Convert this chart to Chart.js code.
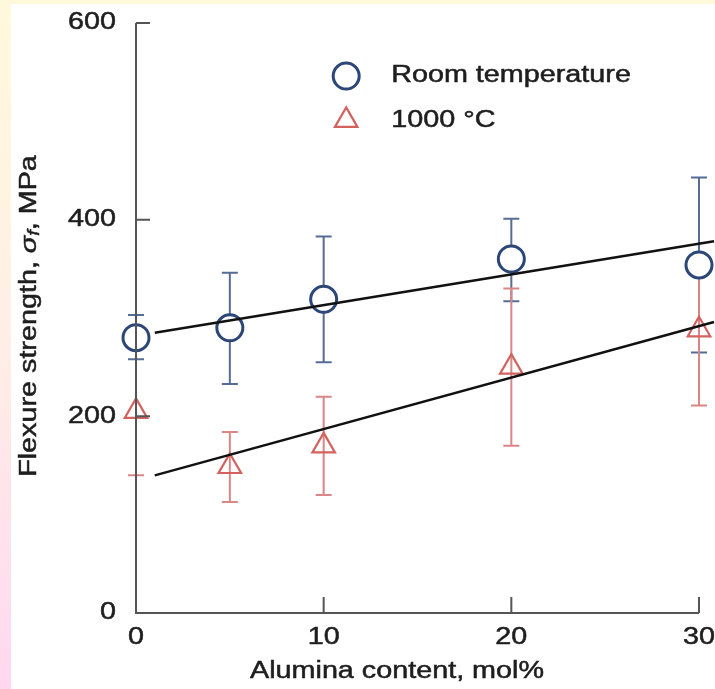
<!DOCTYPE html>
<html>
<head>
<meta charset="utf-8">
<script src="https://cdn.jsdelivr.net/npm/chart.js@4.4.0/dist/chart.umd.min.js"></script>
<style>
	html, body { margin: 0; padding: 0; }
	body {
		width: 715px; height: 689px; overflow: hidden; position: relative;
		background: linear-gradient(to bottom, #fff9dc 0%, #ffeee6 50%, #ffd8f0 100%);
	}
	#panel { position: absolute; left: 11px; top: 4px; width: 704px; height: 685px; background: #fff; }
	#myChart { display: block; }
</style>
</head>
<body>
<div id="panel"><canvas id="myChart" width="704" height="685"></canvas></div>
<script>
// alumina content (mol%) and flexure strength (MPa)
var alumina = [0, 5, 10, 20, 30];
var roomTemp = [280, 290, 319, 360, 354];
var roomLow = [258, 233, 255, 317, 265];
var roomHigh = [303, 346, 383, 401, 443];
var hotTemp = [205, 149, 170, 250, 288];
var hotLow = [140, 113, 120, 170, 211];
var hotHigh = [270, 184, 220, 330, 365];

// straight-line fits
var fitX = [1, 30.8];
var roomFit = [285, 378];
var hotFit = [140, 296];

var xTicks = [0, 10, 20, 30];
var yTicks = [0, 200, 400, 600];

var FAMILY = "'Liberation Sans', Arial, sans-serif";
var FONT = "23px " + FAMILY;
var WIDE = 1.25;
var INK = "#1e1e1e";

function pts(xs, ys) {
	var out = [];
	for (var i = 0; i < xs.length; i++) out.push({x: xs[i], y: ys[i]});
	return out;
}

// wide, slightly heavy lettering stretched along its baseline
function wideText(ctx, str, x, y, align, font) {
	ctx.save();
	ctx.translate(x, y);
	ctx.scale(WIDE, 1);
	ctx.font = font || FONT;
	ctx.fillStyle = INK;
	ctx.strokeStyle = INK;
	ctx.lineWidth = 0.5;
	ctx.textAlign = align;
	ctx.textBaseline = "middle";
	ctx.fillText(str, 0, 0);
	ctx.strokeText(str, 0, 0);
	ctx.restore();
}

var errorBars = {
	id: "errorBars",
	beforeDatasetsDraw: function(chart) {
		var ctx = chart.ctx, xs = chart.scales.x, ys = chart.scales.y;
		var sets = [
			{lo: roomLow, hi: roomHigh, color: "#566b95"},
			{lo: hotLow, hi: hotHigh, color: "#d98686"}
		];
		ctx.save();
		ctx.lineWidth = 2;
		sets.forEach(function(s) {
			ctx.strokeStyle = s.color;
			for (var i = 0; i < alumina.length; i++) {
				var px = xs.getPixelForValue(alumina[i]);
				var top = ys.getPixelForValue(s.hi[i]);
				var bot = ys.getPixelForValue(s.lo[i]);
				ctx.beginPath();
				ctx.moveTo(px, top); ctx.lineTo(px, bot);
				ctx.moveTo(px - 8, top); ctx.lineTo(px + 8, top);
				ctx.moveTo(px - 8, bot); ctx.lineTo(px + 8, bot);
				ctx.stroke();
			}
		});
		ctx.restore();
	}
};

var axesAndText = {
	id: "axesAndText",
	afterDraw: function(chart) {
		var ctx = chart.ctx, xs = chart.scales.x, ys = chart.scales.y;
		var area = chart.chartArea;
		var x0 = xs.getPixelForValue(0), y0 = ys.getPixelForValue(0);

		// axis lines and inward ticks
		ctx.save();
		ctx.strokeStyle = "#555";
		ctx.lineWidth = 2;
		ctx.beginPath();
		ctx.moveTo(x0, ys.getPixelForValue(600));
		ctx.lineTo(x0, y0);
		ctx.lineTo(xs.getPixelForValue(30), y0);
		yTicks.forEach(function(v) {
			if (v === 0) return;
			var py = ys.getPixelForValue(v);
			ctx.moveTo(x0, py); ctx.lineTo(x0 + 14, py);
		});
		xTicks.forEach(function(v) {
			if (v === 0) return;
			var px = xs.getPixelForValue(v);
			ctx.moveTo(px, y0); ctx.lineTo(px, y0 - 16);
		});
		ctx.stroke();
		ctx.restore();

		yTicks.forEach(function(v) {
			wideText(ctx, String(v), x0 - 20, ys.getPixelForValue(v), "right");
		});
		xTicks.forEach(function(v) {
			wideText(ctx, String(v), xs.getPixelForValue(v), y0 + 25, "center");
		});

		// axis titles
		wideText(ctx, "Alumina content, mol%", area.left + 261, y0 + 59, "center");

		var parts = [
			["Flexure strength, ", FONT, 0],
			["\u03c3", "italic 23px " + FAMILY, 0],
			["f", "italic 16px " + FAMILY, 5],
			[", MPa", FONT, 0]
		];
		ctx.save();
		ctx.translate(19, area.top + 293);
		ctx.rotate(-Math.PI / 2);
		ctx.scale(WIDE, 1);
		ctx.fillStyle = INK;
		ctx.strokeStyle = INK;
		ctx.lineWidth = 0.5;
		ctx.textBaseline = "middle";
		ctx.textAlign = "left";
		var total = 0;
		parts.forEach(function(p) { ctx.font = p[1]; total += ctx.measureText(p[0]).width; });
		var cx = -total / 2;
		parts.forEach(function(p) {
			ctx.font = p[1];
			ctx.fillText(p[0], cx, p[2]);
			ctx.strokeText(p[0], cx, p[2]);
			cx += ctx.measureText(p[0]).width;
		});
		ctx.restore();

		// legend
		var lx = xs.getPixelForValue(11.2);
		var rows = [
			{ds: chart.data.datasets[2], y: ys.getPixelForValue(546)},
			{ds: chart.data.datasets[3], y: ys.getPixelForValue(501)}
		];
		rows.forEach(function(r) {
			ctx.save();
			ctx.strokeStyle = r.ds.borderColor;
			ctx.fillStyle = r.ds.backgroundColor;
			ctx.lineWidth = r.ds.borderWidth;
			Chart.helpers.drawPoint(ctx, {
				pointStyle: r.ds.pointStyle, radius: r.ds.pointRadius,
				rotation: 0, borderWidth: r.ds.borderWidth
			}, lx, r.y);
			ctx.restore();
			wideText(ctx, r.ds.label, lx + 45, r.y, "left");
		});
	}
};

var ctx = document.getElementById("myChart");

var myChart = new Chart(ctx, {
	type: "scatter",
	data: {
		datasets: [
			{
				label: "fit room",
				data: pts(fitX, roomFit),
				showLine: true,
				pointRadius: 0,
				borderColor: "#111",
				borderWidth: 2.5,
				clip: false
			},
			{
				label: "fit 1000",
				data: pts(fitX, hotFit),
				showLine: true,
				pointRadius: 0,
				borderColor: "#111",
				borderWidth: 2.5,
				clip: false
			},
			{
				label: "Room temperature",
				data: pts(alumina, roomTemp),
				pointStyle: "circle",
				pointRadius: 13,
				borderColor: "#2c4678",
				backgroundColor: "#fff",
				borderWidth: 3,
				clip: false
			},
			{
				label: "1000 \u00b0C",
				data: pts(alumina, hotTemp),
				pointStyle: "triangle",
				pointRadius: 13,
				borderColor: "#d2625e",
				backgroundColor: "rgba(255,255,255,0)",
				borderWidth: 2.2,
				clip: false
			}
		]
	},
	options: {
		responsive: false,
		animation: false,
		layout: { padding: { left: 125, right: 16, top: 19, bottom: 76 } },
		scales: {
			x: { type: "linear", min: 0, max: 30, display: false },
			y: { type: "linear", min: 0, max: 600, display: false }
		},
		plugins: {
			legend: { display: false },
			tooltip: { enabled: false }
		}
	},
	plugins: [errorBars, axesAndText]
});
</script>
</body>
</html>
